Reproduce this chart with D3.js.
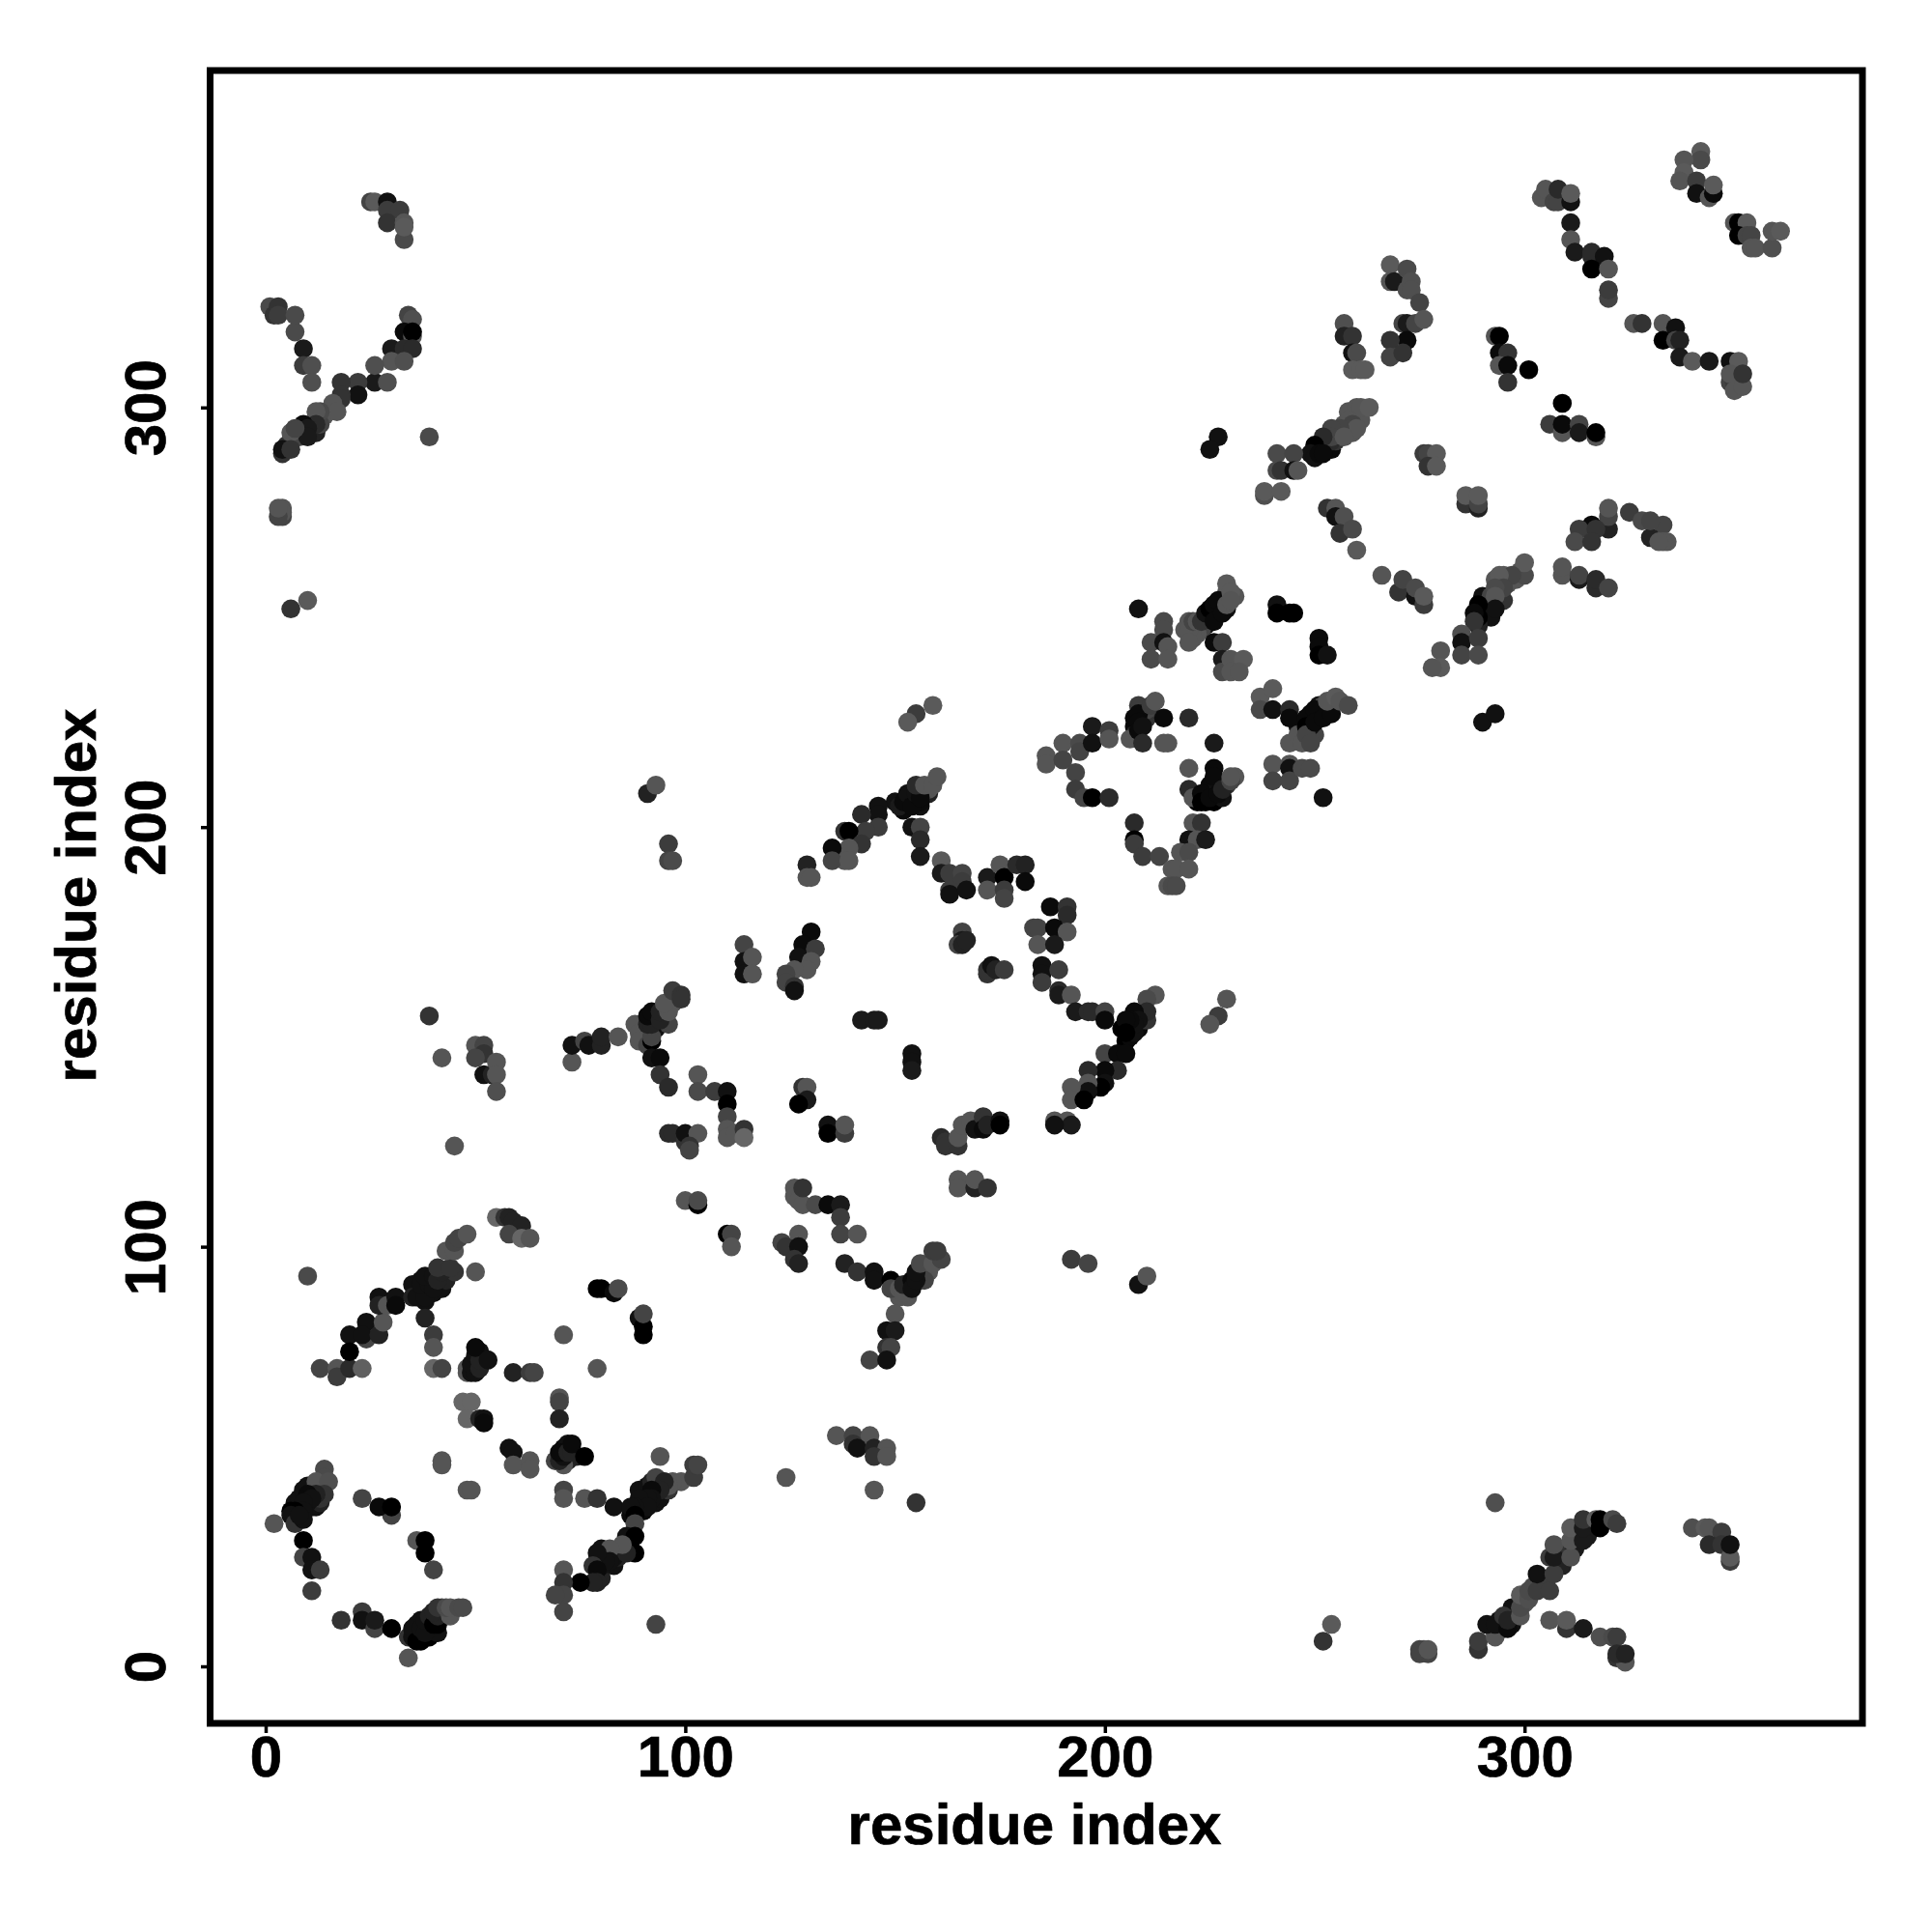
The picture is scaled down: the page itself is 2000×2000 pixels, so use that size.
<!DOCTYPE html>
<html><head><meta charset="utf-8">
<script src="https://cdn.jsdelivr.net/npm/d3@7/dist/d3.min.js"></script>
<style>html,body{margin:0;padding:0;background:#fff}svg{display:block}text{font-family:"Liberation Sans",Arial,sans-serif;font-weight:bold;fill:#000;stroke:#000;stroke-width:0.7px}</style>
</head><body><div id="chart"></div>
<script>
// every triple: residue x, residue y, grey level (0-255)
const bandsLow=[[89,42,17],[91,43,17],[92,44,34],[93,45,68],[93,39,17],[94,40,17],[96,42,51],[87,36,10],[89,38,10],[90,39,17],[90,37,10],[38,87,17],[40,89,17],[42,90,17],[43,92,34],[45,94,51],[37,92,17],[36,90,17],[35,91,17],[8,38,10],[7,39,17],[8,40,17],[12,38,17],[11,38,17],[13,39,34],[9,42,17],[10,43,17],[12,43,51],[13,40,51],[37,11,17],[36,10,17],[38,7,17],[39,9,17],[39,7,0],[40,8,0],[41,8,17],[42,12,34],[42,14,68],[43,12,85],[37,7,0],[36,8,0],[80,21,34],[80,24,17],[83,24,17],[84,26,34],[79,25,34],[80,28,17],[83,26,17],[48,71,85],[49,71,17],[50,72,17],[51,75,17],[71,52,10],[72,49,34],[72,53,17],[74,50,34]];
const bandsMid=[[93,152,17],[95,155,34],[96,153,68],[97,158,85],[90,150,85],[90,153,68],[153,88,85],[153,90,60],[156,92,17],[157,94,34],[158,94,85],[157,92,68],[151,88,85],[206,152,0],[208,152,10],[209,154,34],[210,154,51],[204,152,0],[205,149,0],[206,150,10],[207,151,17],[150,206,17],[152,204,10],[153,206,10],[156,205,17],[157,208,17],[158,208,34],[158,209,85],[156,206,10],[224,248,17],[226,250,10],[227,252,10],[228,253,17],[229,252,17],[231,255,85],[229,256,85],[225,250,10],[223,247,68],[222,246,85],[221,245,85],[219,247,85]];
const bandsHigh=[[247,224,17],[249,227,10],[251,229,17],[252,229,68],[253,227,17],[246,224,17],[250,222,68],[249,224,17],[251,226,10],[254,229,85],[222,206,0],[224,206,0],[226,206,0],[226,209,17],[228,207,17],[229,210,51],[224,208,10],[225,210,10],[227,210,17],[231,212,85],[207,224,10],[207,226,10],[209,226,17],[210,226,51],[210,228,68],[208,229,60],[207,222,34],[253,291,0],[254,290,10],[255,292,51],[256,293,68],[257,296,85],[258,299,85],[259,294,85],[250,290,10],[252,292,17],[254,292,42],[261,297,85],[290,251,0],[291,252,17],[291,254,51],[292,250,17],[293,259,85],[295,260,90],[296,258,85],[298,259,85],[299,261,85],[290,255,17],[289,248,34],[292,255,68],[294,256,85],[8,295,17],[9,294,17],[11,296,17],[12,294,34],[14,298,85],[15,299,85],[8,293,68],[5,291,51],[13,296,68],[297,10,17],[295,9,34],[298,13,51],[297,14,17],[300,15,85],[302,19,74],[304,20,17],[305,20,60],[309,24,34],[309,27,51],[312,28,26],[315,31,26],[294,11,17],[293,8,85],[4,276,85],[4,274,68],[4,275,85],[276,4,85],[333,272,68],[334,268,85],[333,268,85]];
const helixA=[[10,93,74],[13,71,68],[17,71,85],[17,69,60],[20,71,42],[23,71,96],[20,79,17],[20,75,0],[24,78,68],[24,82,17],[23,79,17],[27,79,34],[28,82,85],[27,88,17],[27,86,34],[29,86,85],[31,88,17],[31,86,10],[35,88,34],[36,88,17],[38,88,17],[37,91,17],[39,91,17],[40,90,17],[38,93,17],[40,93,17],[41,92,34],[42,94,34],[41,95,51],[44,95,51],[43,99,85],[45,99,85],[45,101,68],[46,102,68],[48,103,85],[50,94,85]];
const sheetA=[[55,107,102],[57,107,51],[58,107,34],[59,106,34],[61,105,34],[58,103,68],[61,102,102],[63,102,85],[38,83,34],[40,79,60],[40,76,85],[40,71,102],[42,71,68],[48,70,85],[49,70,17],[50,70,17],[49,72,17],[51,71,34],[50,74,17],[51,73,34],[50,76,10],[53,73,17],[59,70,34],[63,70,60],[64,70,68],[71,79,85],[79,71,85],[79,90,0],[80,90,0],[83,89,10],[84,90,74],[89,83,17],[90,81,0],[90,79,0],[90,84,68]];
const middleA=[[47,63,102],[49,63,102],[48,59,102],[51,59,34],[52,59,17],[52,58,10],[42,49,85],[42,48,85],[48,42,85],[49,42,85],[58,52,17],[59,51,17],[59,48,85],[63,49,85],[63,47,85],[70,64,85],[70,63,68],[70,59,34],[69,49,68],[71,48,85],[70,49,34],[71,50,17],[70,51,10],[72,51,34],[73,51,34],[73,53,10],[76,50,0],[71,42,68],[71,40,85],[76,40,85],[79,40,51],[83,38,17]];
const diagonalA=[[94,50,85],[99,44,85],[97,44,85],[102,45,60],[102,48,60],[103,48,68],[96,43,85],[95,44,34],[94,42,34],[92,42,10],[92,40,17],[91,40,17],[89,40,17],[91,38,17],[88,38,17],[87,38,17],[88,36,0],[88,34,68],[86,31,17],[88,31,0],[88,27,0],[86,27,34],[85,29,85],[82,28,85],[82,25,17],[81,25,17],[79,27,17],[78,24,51],[79,23,10],[79,20,34],[78,20,34],[75,20,0],[71,23,85],[71,20,51],[71,17,68],[69,17,68],[71,13,68],[93,10,68]];
const loopA=[[2,34,85],[14,47,74],[14,45,74],[12,44,85],[15,44,79],[14,41,51],[12,41,34],[10,41,10],[10,39,17],[11,40,17],[9,39,17],[9,37,17],[6,37,0],[7,37,0],[6,36,17],[7,34,51],[9,35,17],[8,36,17],[9,30,0],[9,26,68],[11,26,17],[11,23,17],[13,23,60],[11,18,60],[23,40,68],[30,36,68],[27,38,10],[30,38,0],[36,30,85],[38,30,0],[38,27,0],[40,23,68],[18,11,51],[23,13,60],[23,11,17],[26,9,68],[26,11,26],[30,9,0],[34,2,85],[34,7,51],[35,7,17],[35,9,17],[36,6,0],[37,6,0],[37,9,17],[38,8,17],[38,11,17],[39,12,34],[40,10,0],[41,10,0],[41,12,34],[40,13,34],[41,14,51],[44,12,85],[43,14,74],[44,14,85],[46,14,74],[47,14,74]];
const stragglersA=[[39,155,51],[42,145,85],[45,124,85],[50,148,85],[52,148,68],[52,146,51],[50,145,68],[52,141,17],[54,141,34],[55,144,85],[55,141,85],[55,137,79],[124,45,85],[145,42,85],[155,39,51],[136,55,85],[140,55,68],[144,55,85],[140,53,51],[141,52,17],[145,52,34],[148,52,85],[145,50,51],[148,50,85]];
const helixB=[[114,172,68],[114,168,17],[114,165,17],[116,169,85],[116,165,85],[130,175,10],[128,172,10],[131,171,60],[127,169,17],[130,168,85],[129,166,85],[126,166,85],[124,165,68],[124,163,68],[126,162,51],[126,161,17],[166,175,68],[166,173,26],[165,172,68],[166,172,34],[167,173,34],[172,165,51],[172,166,51],[173,167,17],[174,166,34],[176,166,60],[73,144,85],[73,148,17],[76,149,68],[77,148,17],[80,148,34],[80,150,34],[84,150,85]];
const clusterB=[[88,153,85],[89,151,85],[89,149,85],[91,148,68],[92,149,0],[92,150,68],[91,153,34],[92,153,34],[91,155,10],[92,156,10],[94,154,34],[94,156,34],[96,156,85],[95,158,85],[97,161,60],[99,160,51],[99,159,51],[92,145,17],[94,145,10],[94,141,51],[96,138,42],[103,141,85],[103,137,74],[107,137,60],[110,137,17],[110,134,0],[110,131,68],[110,128,85],[110,126,85],[112,127,85],[114,128,51],[114,126,102],[96,127,42],[97,127,42],[100,125,51],[100,127,17],[103,127,85],[101,124,51],[101,123,68],[128,138,51],[129,138,85],[129,135,26],[127,134,0],[134,129,17],[134,127,0],[138,127,60],[138,129,85],[142,154,26],[145,154,26],[146,154,26],[154,146,17],[154,144,17],[154,142,26]];
const arcB=[[161,126,42],[162,125,51],[162,124,51],[165,124,51],[165,126,85],[166,129,85],[168,130,85],[169,128,17],[171,131,51],[171,128,10],[172,129,34],[175,130,17],[175,129,0],[165,116,85],[165,114,85],[169,114,34],[169,116,85],[172,114,51],[100,111,85],[103,110,0],[103,111,74],[110,103,0],[111,103,68],[111,100,85],[126,114,85],[126,112,85],[127,111,85],[128,110,85],[128,114,51],[131,110,74],[134,110,10],[137,110,26],[137,107,60],[137,103,68],[141,103,85],[127,103,85],[123,101,68],[124,100,51],[127,100,17],[126,97,51],[127,96,34],[138,96,34],[141,94,51],[145,94,17],[145,92,17]];
const valleyB=[[149,92,0],[149,90,68],[151,90,85],[152,89,85],[152,91,34],[154,92,10],[154,90,17],[155,92,17],[155,94,17],[156,96,74],[159,96,85],[161,97,68],[159,99,60],[160,99,60],[150,84,85],[148,80,17],[150,80,26],[148,76,51],[149,76,68],[144,73,68],[148,73,17]];
const helixC=[[159,229,90],[155,227,60],[153,225,90],[151,205,26],[152,206,10],[153,208,17],[154,205,10],[155,208,17],[156,207,10],[155,210,42],[157,210,85],[159,210,85],[160,212,85],[146,205,17],[146,203,17],[142,203,42],[146,200,60],[143,199,60],[138,199,51],[139,199,0],[142,196,51],[139,195,85],[138,192,85],[135,195,10],[135,192,68],[139,192,85],[129,191,34],[129,188,85],[130,188,85],[154,200,17],[156,200,68],[156,197,42],[156,193,26],[91,208,34],[93,210,85],[96,196,60],[96,192,68],[97,192,74]];
const clusterC=[[161,192,90],[161,189,26],[163,189,60],[166,189,68],[166,187,60],[163,185,60],[163,184,17],[167,185,17],[172,188,26],[172,185,85],[175,191,85],[176,188,0],[176,185,60],[176,183,68],[179,191,42],[181,191,34],[181,187,10],[187,181,10],[191,181,51],[191,179,42],[183,176,68],[184,176,68],[188,176,10],[191,175,85],[184,172,85],[188,172,26],[185,167,17],[185,165,17],[185,163,60],[189,166,60],[189,161,42],[189,160,26],[192,160,85],[193,156,26],[196,156,42],[197,156,42],[200,156,68],[200,154,10]];
const helixD=[[212,160,85],[210,159,74],[210,156,42],[207,156,10],[208,154,17],[207,153,17],[206,154,10],[205,154,10],[205,151,0],[229,159,85],[227,155,60],[225,153,85],[200,146,68],[203,146,10],[205,146,10],[203,142,42],[200,142,10],[196,142,42],[200,139,17],[199,138,0],[196,139,85],[196,137,17],[192,138,85],[192,135,85],[195,135,0],[188,130,85],[191,130,85],[192,129,26],[188,129,17],[192,97,60],[196,96,68],[208,91,17],[210,93,85]];
const squareD=[[186,217,85],[186,215,85],[190,220,85],[190,216,68],[194,220,74],[194,218,68],[197,224,26],[197,220,17],[201,223,60],[201,221,85],[193,213,68],[193,209,60],[195,207,68],[197,207,0],[201,207,42],[206,221,85],[208,227,10],[208,225,10],[208,223,10],[209,224,17],[209,220,42],[211,229,60],[212,230,85],[214,226,10],[214,220,85],[215,220,85],[220,226,42],[226,220,26],[220,214,85],[220,209,42],[226,214,10],[226,212,10],[221,207,85],[223,208,10],[223,206,0],[225,207,10],[227,208,10],[228,209,34],[230,211,68],[230,212,85],[221,201,85],[223,201,51],[207,201,42],[207,197,0],[207,196,60],[209,193,60],[213,193,68],[220,197,17],[222,197,85],[224,197,26],[218,194,85],[220,194,74],[216,190,85],[217,190,85],[220,190,85],[215,186,85],[216,186,74],[217,186,74]];
const helixE=[[208,252,17],[214,249,74],[214,247,74],[211,244,74],[214,244,17],[215,243,85],[211,240,74],[215,240,85],[220,249,85],[220,247,85],[220,244,85],[221,249,68],[222,249,85],[223,249,51],[224,251,17],[225,252,0],[226,253,10],[226,249,10],[227,254,10],[228,251,10],[229,258,90],[229,253,85],[230,256,90],[230,254,85],[226,244,10],[228,244,60],[228,240,26],[228,237,74],[230,240,85],[233,240,90],[230,237,85],[232,237,85],[241,253,17],[241,251,0],[244,251,0],[245,251,0],[251,245,10],[251,243,10],[251,241,0],[253,241,17]];
const helixF=[[237,231,90],[240,233,90],[237,228,74],[240,228,17],[244,228,42],[244,226,10],[244,220,85],[246,222,85],[247,220,85],[248,226,10],[248,224,0],[248,222,68],[249,220,68],[250,228,10],[250,225,10],[252,226,10],[254,227,10],[253,230,85],[255,231,90],[256,230,85],[258,229,74],[240,215,85],[240,211,68],[244,215,85],[244,214,17],[244,211,68],[247,214,74],[249,214,74],[252,207,17]];
const upperG=[[227,293,17],[225,290,17],[309,301,0],[306,296,60],[309,294,85],[309,296,10],[313,296,68],[313,294,26],[317,293,85],[317,294,0],[268,334,90],[268,330,85],[269,330,26],[272,333,74],[272,328,79],[273,330,79],[273,328,79],[275,325,68],[271,320,68],[272,320,26],[274,320,68],[276,321,85],[272,316,10],[268,316,51],[268,312,68],[271,313,51],[257,320,79],[257,317,34],[259,317,51],[259,313,17],[260,313,74],[259,309,90],[261,309,90],[262,309,90],[293,317,85],[294,317,0],[294,313,10],[296,313,51],[294,310,85],[296,310,10],[296,306,51],[301,309,0]];
const helixH=[[260,300,85],[261,300,85],[263,300,90],[258,297,85],[259,296,68],[260,295,85],[256,295,68],[254,295,68],[254,293,68],[257,293,85],[252,293,42],[250,291,0],[249,289,17],[250,288,17],[251,289,10],[252,289,10],[241,289,74],[245,289,68],[241,285,74],[242,285,51],[245,285,17],[246,285,85],[238,279,79],[238,280,90],[242,280,90],[276,289,60],[277,289,68],[279,289,90],[277,286,51],[279,286,90],[286,277,51],[286,279,90],[289,276,34],[289,277,68],[289,279,90],[253,276,51],[255,276,85],[255,274,17],[257,274,79],[256,270,51],[259,271,74],[260,266,90],[266,260,85],[270,256,51],[271,259,68],[274,255,17],[274,257,74],[276,253,60],[276,255,90]];
const sheetH=[[320,271,34],[320,274,68],[320,276,85],[316,272,10],[313,271,60],[317,271,51],[312,268,74],[316,268,51],[325,275,60],[328,273,74],[330,269,34],[330,273,68],[332,268,85],[309,260,85],[309,262,85],[313,259,26],[313,260,68],[317,257,42],[317,259,42],[320,257,68],[300,260,74],[300,263,90],[297,260,68],[294,260,90],[295,254,51],[295,257,68],[293,257,74],[293,255,85],[293,252,17],[289,253,0],[289,250,0],[288,251,10],[288,249,51],[285,246,79],[285,244,17],[289,245,60],[285,241,68],[289,241,74],[280,242,85],[280,238,90],[278,238,85],[290,225,17],[293,227,17]];
const cornerI=[[304,350,85],[305,352,85],[307,349,68],[308,349,68],[308,352,42],[311,349,17],[311,351,90],[311,344,26],[311,340,85],[312,337,26],[316,336,42],[316,337,42],[319,336,17],[316,333,0],[320,333,85],[320,326,68],[320,328,60],[326,320,85],[328,320,51],[333,320,85],[336,319,17],[333,316,0],[336,316,68],[337,316,34],[337,312,26],[340,311,90],[344,311,26],[349,311,17],[351,311,90],[349,306,68],[350,306,60],[349,308,85],[350,304,85],[352,305,85],[352,308,51],[342,361,90],[342,359,74],[338,359,85],[338,356,90],[337,354,85],[341,354,60],[341,351,17],[344,350,85],[345,351,10],[345,353,90],[350,344,85],[351,344,0],[353,344,90],[351,341,0],[353,341,68],[354,341,68],[354,338,85],[355,338,85],[359,338,79],[359,342,85],[361,342,90]];
const cornerJ=[[25,349,68],[26,349,90],[29,349,17],[29,347,60],[32,347,60],[29,344,51],[33,340,74],[33,344,85],[33,343,90],[1,324,74],[2,322,51],[3,324,51],[3,322,60],[7,318,74],[7,322,74],[9,314,26],[9,310,60],[11,310,79],[11,306,79],[34,322,68],[35,321,79],[33,318,10],[35,317,85],[35,318,0],[30,314,26],[33,314,42],[35,314,42],[30,311,85],[33,311,79],[26,306,26],[26,310,79],[29,306,79],[22,306,60],[18,306,51],[22,303,17],[18,303,51],[18,302,51],[16,301,85],[17,299,85],[13,299,74],[12,299,85],[12,296,42],[9,296,10],[10,295,26],[10,293,26],[6,294,85],[7,295,68],[4,289,51],[4,290,17],[6,290,51],[39,293,74],[3,274,68],[3,276,85],[6,252,51],[10,254,90]];
const cornerK=[[293,39,79],[252,6,51],[254,10,90],[275,3,68],[277,3,68],[275,4,68],[277,4,85],[289,4,51],[289,6,60],[293,7,85],[291,10,17],[293,10,17],[295,12,51],[296,9,10],[296,11,34],[299,12,85],[299,14,74],[299,17,90],[301,16,79],[301,18,74],[303,18,60],[306,18,60],[303,22,17],[307,22,60],[306,26,60],[307,26,26],[307,29,79],[311,26,79],[311,30,85],[311,33,90],[314,30,26],[314,33,26],[314,35,51],[317,35,90],[318,33,0],[318,35,0],[321,35,74],[322,34,60],[340,33,79],[343,33,90],[344,33,85],[347,32,60],[344,29,42],[347,29,51],[349,25,60],[349,26,90],[349,29,17],[306,11,85],[310,9,51],[310,11,90],[314,9,26],[318,7,79],[321,7,74],[322,7,60],[322,2,51],[324,1,85],[322,3,42],[324,3,34]];
const xTickValues=[0,100,200,300];
const yTickValues=[0,100,200,300];
const axisTitle="residue index";

const contacts=[].concat(bandsLow,bandsMid,bandsHigh,helixA,sheetA,middleA,diagonalA,loopA,stragglersA,helixB,clusterB,arcB,valleyB,helixC,clusterC,helixD,squareD,helixE,helixF,upperG,helixH,sheetH,cornerI,cornerJ,cornerK);

const W=2000,H=2000;
const x=d3.scaleLinear().domain([0,100]).range([275,709.4]);
const y=d3.scaleLinear().domain([0,100]).range([1725,1290.6]);
const svg=d3.select("#chart").append("svg").attr("width",W).attr("height",H).attr("viewBox",`0 0 ${W} ${H}`);
svg.append("rect").attr("width",W).attr("height",H).attr("fill","#fff");
svg.append("g").selectAll("circle").data(contacts).join("circle")
  .attr("cx",d=>x(d[0])).attr("cy",d=>y(d[1])).attr("r",9.8)
  .attr("fill",d=>d3.rgb(d[2],d[2],d[2]));
svg.append("rect").attr("x",217.5).attr("y",73).attr("width",1710.5).attr("height",1711).attr("fill","none").attr("stroke","#000").attr("stroke-width",7);
const xAxis=d3.axisBottom(x).tickValues(xTickValues).tickSize(10).tickFormat(d3.format("d"));
const gx=svg.append("g").attr("transform","translate(0,1784)").call(xAxis);
gx.select(".domain").remove();
gx.selectAll("line").attr("stroke","#000").attr("stroke-width",3.5);
gx.selectAll("text").attr("font-size",60).attr("dy",null).attr("text-anchor","middle").attr("y",55);
const yAxis=d3.axisLeft(y).tickValues(yTickValues).tickSize(10).tickFormat(d3.format("d"));
const gy=svg.append("g").attr("transform","translate(218,0)").call(yAxis);
gy.select(".domain").remove();
gy.selectAll("line").attr("stroke","#000").attr("stroke-width",3.5);
gy.selectAll("text").attr("font-size",60).attr("x",null).attr("dy",null).attr("text-anchor","middle")
  .attr("transform",`translate(-47,0) rotate(-90)`);
svg.append("text").attr("x",1071).attr("y",1909).attr("text-anchor","middle").attr("font-size",60).text(axisTitle);
svg.append("text").attr("transform","translate(99,927) rotate(-90)").attr("text-anchor","middle").attr("font-size",60).text(axisTitle);
</script></body></html>
